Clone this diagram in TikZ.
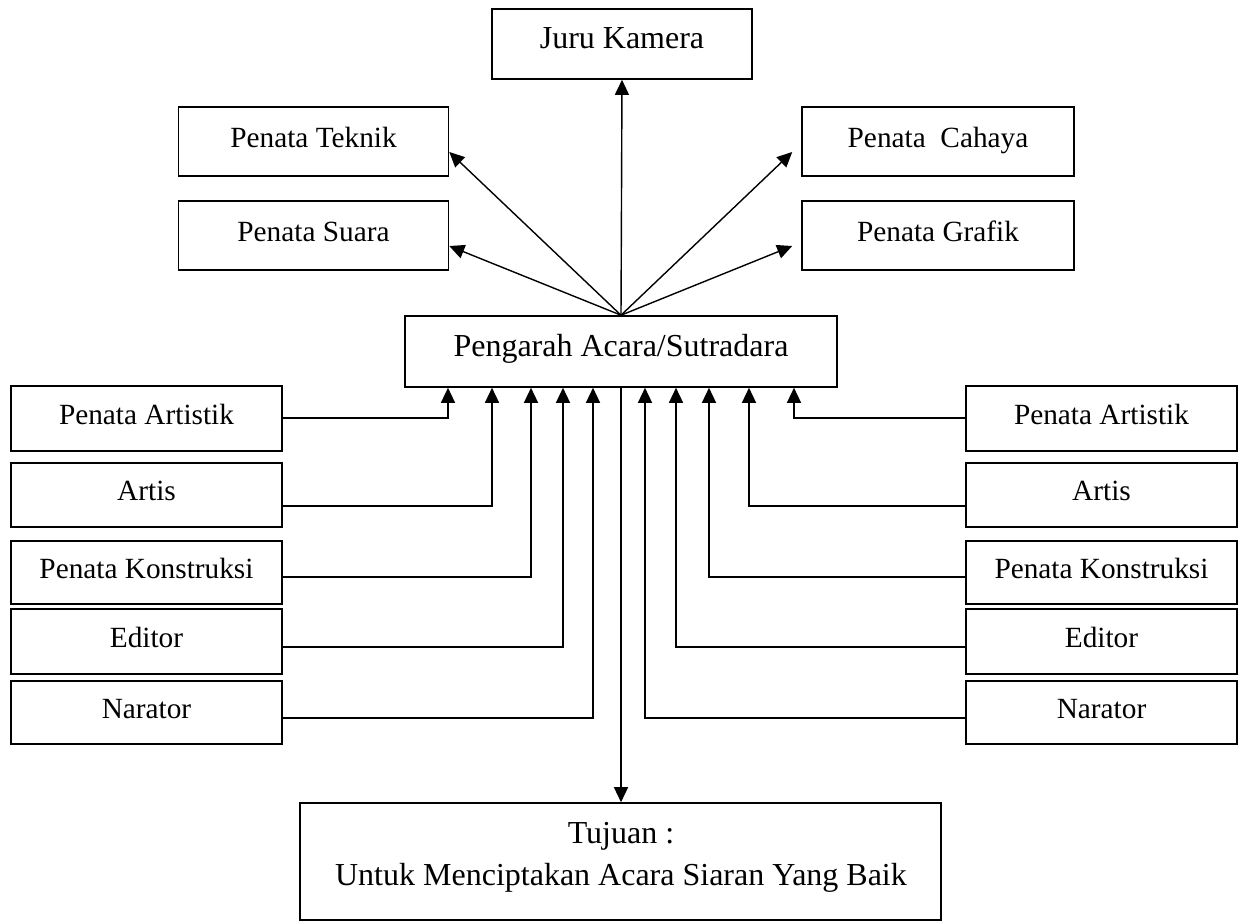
\documentclass[tikz,border=0pt]{standalone}
\usepackage{fontspec}
\setmainfont{Liberation Serif}
\usetikzlibrary{arrows.meta}
\begin{document}
\begin{tikzpicture}[x=1pt,y=-1pt,
  box/.style={draw, line width=1.6pt, inner sep=0pt,
    font=\fontsize{29.3}{35}\selectfont, text height=17.6pt, text depth=6.6pt},
  bigbox/.style={box, font=\fontsize{32}{40}\selectfont,
    text height=19.2pt, text depth=10pt},
  sidebox/.style={box, minimum width=271pt},
  upperbox/.style={box, minimum width=270pt, minimum height=69pt},
  arr/.style={line width=1.4pt, -{Triangle[length=15pt,width=14pt]}},
  link/.style={line width=1.4pt},
  caption/.style={font=\fontsize{32}{40}\selectfont, anchor=base, inner sep=0pt}
]
\useasboundingbox (0,0) rectangle (1239,922);

% central director box
\node[bigbox, minimum width=432pt, minimum height=71pt] (pengarah) at (621,351.5) {Pengarah Acara/Sutradara};

% crew above the director
\node[bigbox, minimum width=260pt, minimum height=70pt] (kamera) at (622,44) {Juru Kamera};
\node[upperbox] (teknik) at (313.5,141.5) {Penata Teknik};
\node[upperbox] (suara)  at (313.5,235.5) {Penata Suara};
\node[upperbox, minimum width=272pt] (cahaya) at (938,141.5) {Penata\ \ Cahaya};
\node[upperbox, minimum width=272pt] (grafik) at (938,235.5) {Penata Grafik};

% left column
\node[sidebox, minimum height=65pt] (la) at (146.5,418.5) {Penata Artistik};
\node[sidebox, minimum height=64pt] (lb) at (146.5,495)   {Artis};
\node[sidebox, minimum height=63pt] (lc) at (146.5,572.5) {Penata Konstruksi};
\node[sidebox, minimum height=65pt] (ld) at (146.5,641.5) {Editor};
\node[sidebox, minimum height=63pt] (le) at (146.5,712.5) {Narator};

% right column
\node[sidebox, minimum height=65pt] (ra) at (1101.5,418.5) {Penata Artistik};
\node[sidebox, minimum height=64pt] (rb) at (1101.5,495)   {Artis};
\node[sidebox, minimum height=63pt] (rc) at (1101.5,572.5) {Penata Konstruksi};
\node[sidebox, minimum height=65pt] (rd) at (1101.5,641.5) {Editor};
\node[sidebox, minimum height=63pt] (re) at (1101.5,712.5) {Narator};

% goal box
\node[draw, line width=1.6pt, minimum width=641pt, minimum height=117pt, inner sep=0pt] (tujuan) at (620.5,861.5) {};
\node[caption] (tujuanA) at (621,843) {Tujuan :};
\node[caption] (tujuanB) at (621,885) {Untuk Menciptakan Acara Siaran Yang Baik};

% fan of arrows out of the director
\draw[arr] (pengarah.north) -- (kamera.south);
\draw[arr] (pengarah.north) -- ([yshift=-10.5pt]teknik.east);
\draw[arr] (pengarah.north) -- ([yshift=-10.5pt]suara.east);
\draw[arr] (pengarah.north) -- ([shift={(-9pt,-10.5pt)}]cahaya.west);
\draw[arr] (pengarah.north) -- ([shift={(-9pt,-10.5pt)}]grafik.west);

% left column into the director
\draw[arr] ([yshift=0.5pt]la.east)  -| ([xshift=-173pt]pengarah.south);
\draw[arr] ([yshift=-11pt]lb.east)  -| ([xshift=-129pt]pengarah.south);
\draw[arr] ([yshift=-4.5pt]lc.east) -| ([xshift=-90pt]pengarah.south);
\draw[arr] ([yshift=-5.5pt]ld.east) -| ([xshift=-58pt]pengarah.south);
\draw[arr] ([yshift=-5.5pt]le.east) -| ([xshift=-28pt]pengarah.south);

% right column into the director
\draw[arr] ([yshift=0.5pt]ra.west)  -| ([xshift=173pt]pengarah.south);
\draw[arr] ([yshift=-11pt]rb.west)  -| ([xshift=128pt]pengarah.south);
\draw[arr] ([yshift=-4.5pt]rc.west) -| ([xshift=88pt]pengarah.south);
\draw[arr] ([yshift=-5.5pt]rd.west) -| ([xshift=55pt]pengarah.south);
\draw[arr] ([yshift=-5.5pt]re.west) -| ([xshift=24pt]pengarah.south);

% director down to the goal
\draw[arr] (pengarah.south) -- (tujuan.north -| pengarah.south);
\end{tikzpicture}
\end{document}
